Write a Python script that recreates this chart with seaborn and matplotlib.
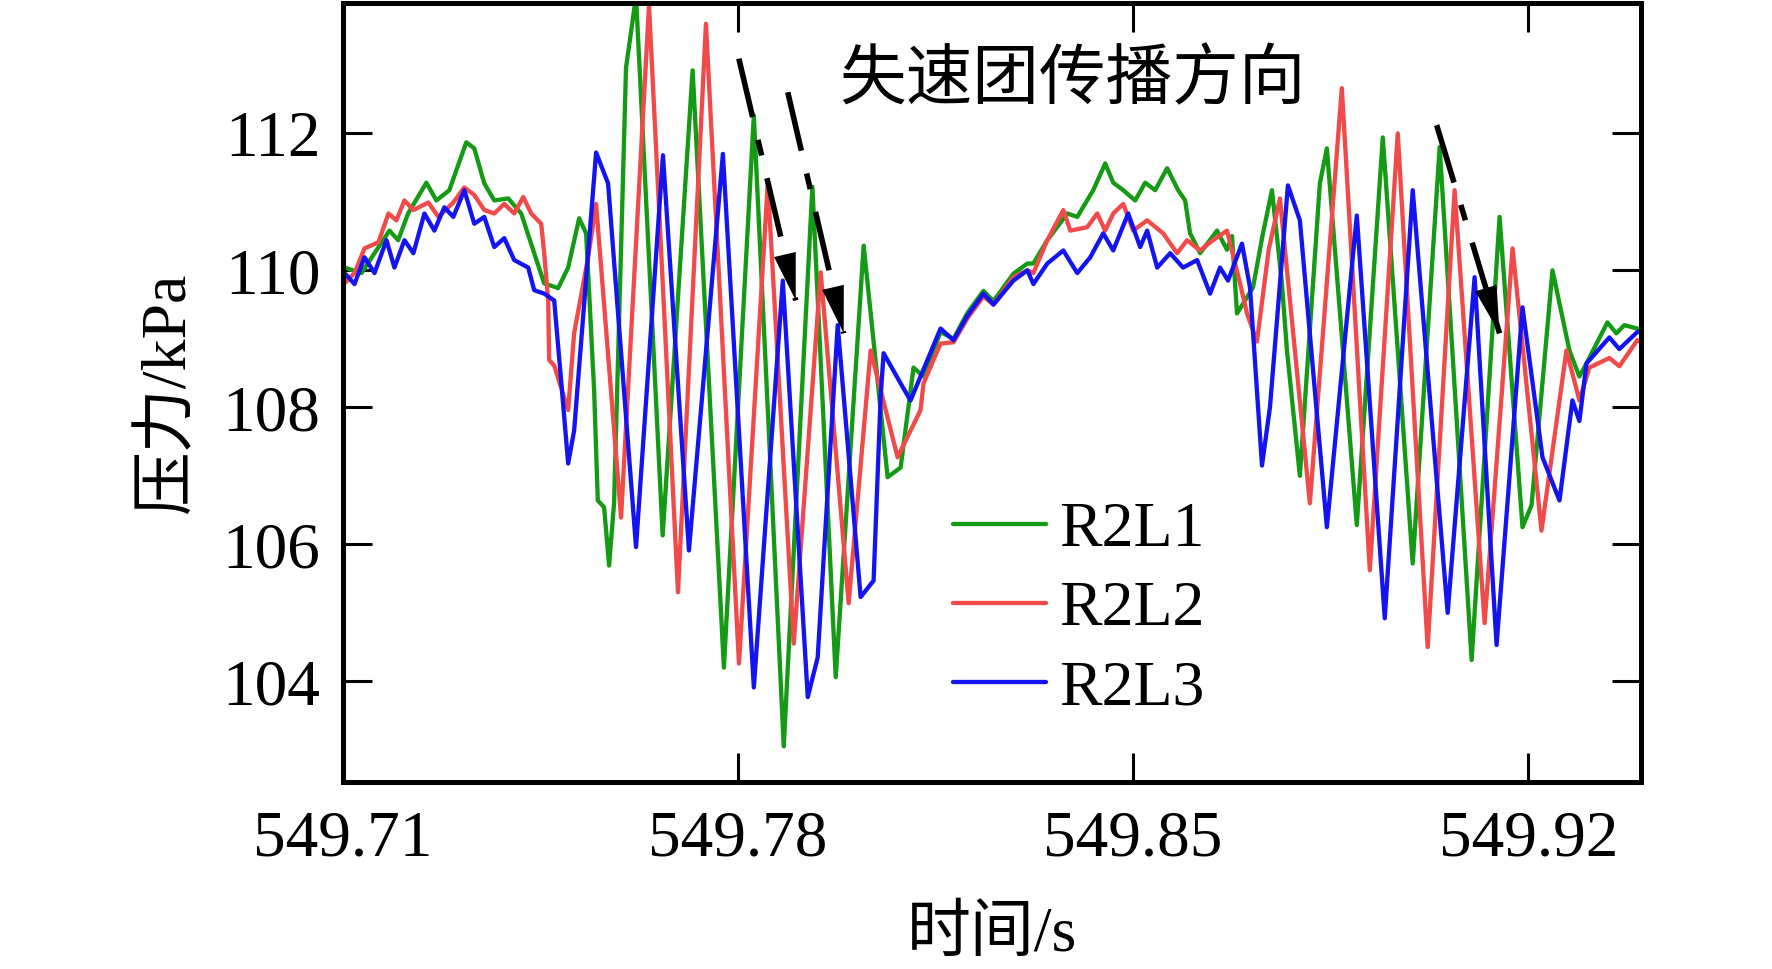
import matplotlib
matplotlib.use("Agg")
import matplotlib.pyplot as plt
import numpy as np
import pandas as pd
import seaborn as sns

# ---------------- data ----------------
series_names = ["R2L1", "R2L2", "R2L3"]

t_r2l1 = [549.71035, 549.71336, 549.71566, 549.71831, 549.71985, 549.72161, 549.72485, 549.72662, 549.72891, 549.73015,
          549.73192, 549.73333, 549.73510, 549.73687, 549.73934, 549.74164, 549.74394, 549.74571, 549.74818, 549.74995,
          549.75190, 549.75313, 549.75455, 549.75520, 549.75632, 549.75720, 549.75808, 549.76020, 549.76197, 549.76669,
          549.77199, 549.77753, 549.78283, 549.78813, 549.79320, 549.79733, 549.80228, 549.80652, 549.80882, 549.81111,
          549.81288, 549.81589, 549.81819, 549.82066, 549.82349, 549.82526, 549.82879, 549.83127, 549.83233, 549.83480,
          549.83834, 549.84010, 549.84293, 549.84505, 549.84647, 549.84824, 549.85036, 549.85213, 549.85389, 549.85602,
          549.85796, 549.85920, 549.86008, 549.86185, 549.86485, 549.86662, 549.86750, 549.86839, 549.87122, 549.87298,
          549.87458, 549.87634, 549.87723, 549.87952, 549.88306, 549.88430, 549.88960, 549.89420, 549.89950, 549.90427,
          549.90993, 549.91488, 549.91894, 549.92054, 549.92425, 549.92725, 549.92900, 549.93026, 549.93397, 549.93556,
          549.93697, 549.93927, 549.93990]
p_r2l1 = [110.04, 109.96, 110.25, 110.58, 110.44, 110.83, 111.28, 111.02, 111.17, 111.46,
          111.87, 111.78, 111.27, 111.02, 111.05, 110.83, 110.25, 109.81, 109.74, 110.04,
          110.76, 110.54, 108.25, 106.64, 106.54, 105.69, 106.60, 112.96, 114.00, 106.13,
          112.92, 104.20, 112.26, 103.05, 111.22, 104.06, 110.36, 106.98, 107.12, 108.58,
          108.45, 109.10, 109.00, 109.38, 109.70, 109.55, 109.95, 110.10, 110.10, 110.44,
          110.83, 110.78, 111.17, 111.56, 111.28, 111.17, 111.02, 111.28, 111.17, 111.49,
          111.17, 111.02, 110.54, 110.25, 110.58, 110.30, 110.50, 109.37, 109.75, 110.54,
          111.17, 109.81, 108.83, 107.00, 111.27, 111.78, 106.28, 111.94, 105.72, 111.80,
          104.31, 110.78, 106.25, 106.57, 110.00, 108.83, 108.45, 108.64, 109.24, 109.08,
          109.20, 109.15, 109.10]

t_r2l2 = [549.71035, 549.71212, 549.71389, 549.71636, 549.71813, 549.71955, 549.72096, 549.72255, 549.72520, 549.72697,
          549.72962, 549.73157, 549.73333, 549.73510, 549.73687, 549.73864, 549.74040, 549.74200, 549.74341, 549.74518,
          549.74571, 549.74642, 549.74659, 549.74748, 549.74995, 549.75101, 549.75349, 549.75490, 549.75932, 549.76427,
          549.76940, 549.77435, 549.78020, 549.78530, 549.78990, 549.79467, 549.79962, 549.80351, 549.80829, 549.81235,
          549.81288, 549.81589, 549.81819, 549.82066, 549.82349, 549.82526, 549.82879, 549.83127, 549.83233, 549.83480,
          549.83763, 549.83887, 549.84187, 549.84364, 549.84505, 549.84647, 549.84824, 549.85000, 549.85248, 549.85531,
          549.85778, 549.85955, 549.86185, 549.86415, 549.86662, 549.86892, 549.87016, 549.87192, 549.87400, 549.87599,
          549.88129, 549.88695, 549.89190, 549.89685, 549.90215, 549.90692, 549.91223, 549.91718, 549.92230, 549.92672,
          549.92902, 549.93079, 549.93432, 549.93609, 549.93927, 549.93990]
p_r2l2 = [109.81, 109.96, 110.32, 110.41, 110.83, 110.73, 111.02, 110.88, 110.99, 110.78,
          110.99, 111.21, 111.10, 110.88, 110.83, 110.97, 110.83, 111.07, 110.83, 110.68,
          110.25, 109.56, 108.69, 108.61, 107.96, 109.08, 110.19, 110.97, 106.39, 113.87,
          105.30, 113.60, 104.26, 111.27, 104.55, 109.97, 105.14, 108.83, 107.27, 107.96,
          108.35, 108.93, 108.95, 109.30, 109.62, 109.50, 109.90, 110.00, 109.96, 110.44,
          110.88, 110.58, 110.63, 110.83, 110.58, 110.83, 110.97, 110.58, 110.73, 110.54,
          110.25, 110.44, 110.29, 110.44, 110.58, 109.81, 109.37, 108.96, 110.30, 111.05,
          106.60, 112.66, 105.62, 112.00, 104.50, 111.17, 104.85, 110.32, 106.20, 108.83,
          108.10, 108.58, 108.72, 108.60, 108.98, 108.95]

t_r2l3 = [549.71035, 549.71212, 549.71389, 549.71566, 549.71778, 549.71919, 549.72096, 549.72255, 549.72450, 549.72626,
          549.72803, 549.72962, 549.73157, 549.73333, 549.73510, 549.73687, 549.73864, 549.74040, 549.74288, 549.74394,
          549.74571, 549.74748, 549.74870, 549.74995, 549.75101, 549.75490, 549.75702, 549.76197, 549.76674, 549.77134,
          549.77735, 549.78283, 549.78796, 549.79238, 549.79414, 549.79768, 549.80174, 549.80404, 549.80528, 549.80581,
          549.80882, 549.81058, 549.81589, 549.81819, 549.82066, 549.82349, 549.82526, 549.82879, 549.83127, 549.83233,
          549.83480, 549.83763, 549.84010, 549.84240, 549.84470, 549.84647, 549.84912, 549.85124, 549.85248, 549.85425,
          549.85655, 549.85884, 549.86132, 549.86362, 549.86538, 549.86680, 549.86927, 549.87069, 549.87281, 549.87422,
          549.87740, 549.87952, 549.88430, 549.88960, 549.89455, 549.89950, 549.90569, 549.91046, 549.91435, 549.91894,
          549.92248, 549.92549, 549.92778, 549.92902, 549.93026, 549.93432, 549.93609, 549.93927, 549.93990]
p_r2l3 = [109.96, 109.80, 110.19, 109.96, 110.44, 110.04, 110.44, 110.25, 110.83, 110.58,
          110.92, 110.78, 111.17, 110.68, 110.78, 110.34, 110.47, 110.15, 110.04, 109.71,
          109.66, 109.56, 108.40, 107.18, 107.66, 111.72, 111.27, 105.96, 111.68, 105.91,
          111.70, 103.91, 109.85, 103.77, 104.35, 109.20, 105.23, 105.47, 108.15, 108.79,
          108.35, 108.10, 109.15, 108.98, 109.34, 109.66, 109.50, 109.85, 110.00, 109.80,
          110.10, 110.29, 109.96, 110.19, 110.54, 110.29, 110.83, 110.34, 110.58, 110.04,
          110.25, 110.04, 110.15, 109.66, 110.04, 109.85, 110.39, 109.75, 107.15, 108.00,
          111.24, 110.73, 106.25, 110.80, 104.92, 111.17, 105.00, 109.90, 104.53, 109.46,
          107.27, 106.64, 108.10, 107.80, 108.64, 109.02, 108.85, 109.10, 109.10]

x_ticks = [549.71, 549.78, 549.85, 549.92]
x_tick_labels = ["549.71", "549.78", "549.85", "549.92"]
y_ticks = [104, 106, 108, 110, 112]
y_tick_labels = ["104", "106", "108", "110", "112"]

annotation_text = "失速团传播方向"
annotation_pos = (549.8392, 112.75)
arrow_starts = [(549.78018, 113.09), (549.78884, 112.60), (549.90374, 112.12)]
arrow_tips = [(549.79025, 109.56), (549.79874, 109.08), (549.91488, 109.08)]

colors = {"R2L1": "#159a15", "R2L2": "#f04a4a", "R2L3": "#1414f0"}

# ---------------- figure ----------------
sns.set_style("ticks")
plt.rcParams["font.family"] = ["Liberation Serif", "Noto Sans CJK SC", "DejaVu Sans"]
plt.rcParams["axes.unicode_minus"] = False
for key in ["text.color", "axes.labelcolor", "xtick.color", "ytick.color",
            "xtick.labelcolor", "ytick.labelcolor"]:
    plt.rcParams[key] = "black"

df = pd.concat([
    pd.DataFrame({"t": t_r2l1, "p": p_r2l1, "series": "R2L1"}),
    pd.DataFrame({"t": t_r2l2, "p": p_r2l2, "series": "R2L2"}),
    pd.DataFrame({"t": t_r2l3, "p": p_r2l3, "series": "R2L3"}),
], ignore_index=True)

fig = plt.figure(figsize=(17.72, 9.69), dpi=100)
ax = fig.add_axes([0.1933, 0.193, 0.7327, 0.8044])

sns.lineplot(data=df, x="t", y="p", hue="series", hue_order=series_names,
             palette=colors, estimator=None, sort=False, linewidth=3.1,
             legend=False, ax=ax)

ax.set_xlim(549.71, 549.9399)
ax.set_ylim(102.53, 113.91)
ax.set_xticks(x_ticks)
ax.set_xticklabels(x_tick_labels)
ax.set_yticks(y_ticks)
ax.set_yticklabels(y_tick_labels)
ax.tick_params(direction="in", length=21, width=2.2, color="black",
               labelcolor="black", top=True, right=True, labelsize=47)
ax.tick_params(axis="x", pad=20)
ax.tick_params(axis="y", pad=16)
for s in ax.spines.values():
    s.set_linewidth(3.6)
    s.set_color("black")

ax.set_xlabel("时间/s", fontsize=46, color="black")
ax.xaxis.set_label_coords(0.5, -0.197)
ax.xaxis.label.set_va("center")
ax.set_ylabel("压力/kPa", fontsize=46, color="black")
ax.yaxis.set_label_coords(-0.134, 0.5)
ax.yaxis.label.set_va("center")

handles = ax.get_lines()[:3]
ax.legend(handles=handles, labels=series_names, loc="center left",
          bbox_to_anchor=(0.47, 0.2205), frameon=False, fontsize=46,
          handlelength=1.46, handletextpad=0.2, labelspacing=0.32,
          borderpad=0, borderaxespad=0, labelcolor="black")

ax.text(annotation_pos[0], annotation_pos[1], annotation_text, fontsize=48,
        ha="center", va="center", color="black")

for (x0, y0), (x1, y1) in zip(arrow_starts, arrow_tips):
    ax.plot([x0, x1], [y0, y1], color="black", lw=4.0,
            linestyle=(0, (10.8, 4.2, 2.9, 4.2)), dash_capstyle="butt")
    ax.annotate("", xy=(x1, y1), xytext=(x0, y0),
                arrowprops=dict(arrowstyle="-|>,head_length=3.4,head_width=0.8",
                                lw=0, color="black", shrinkA=0, shrinkB=0,
                                mutation_scale=10))

fig.savefig("out.png", dpi=100)
